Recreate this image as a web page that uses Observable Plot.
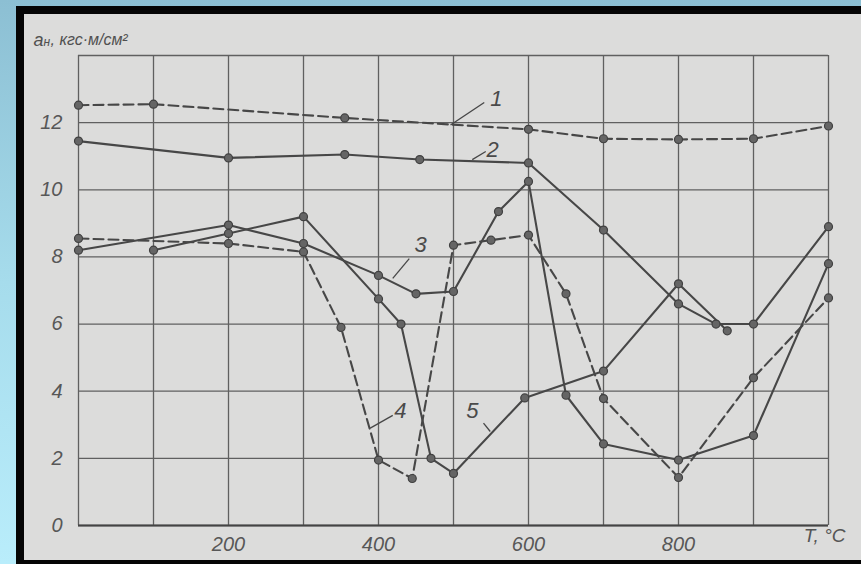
<!DOCTYPE html>
<html>
<head>
<meta charset="utf-8">
<script src="https://cdn.jsdelivr.net/npm/d3@7"></script>
<script src="https://cdn.jsdelivr.net/npm/@observablehq/plot@0.6"></script>
<style>
  html, body { margin: 0; padding: 0; width: 861px; height: 564px; overflow: hidden; }
  body { background: linear-gradient(to bottom, #8cbfd3 0%, #a6dcec 50%, #b9edfb 100%); position: relative; }
  #frame { position: absolute; left: 16px; top: 6px; width: 845px; height: 558px; background: #050505; }
  #paper { position: absolute; left: 24px; top: 14px; width: 837px; height: 546px; background: #dcdcdb; }
  #paper svg { display: block; }
</style>
</head>
<body>
<div id="frame"></div>
<div id="paper"></div>
<script>
// Grid and tick values
const T_GRID = [0, 100, 200, 300, 400, 500, 600, 700, 800, 900, 1000];
const A_GRID = [0, 2, 4, 6, 8, 10, 12, 14];
const X_TICKS = [200, 400, 600, 800];
const Y_TICKS = [0, 2, 4, 6, 8, 10, 12];

// Curve 1 (dashed)
const c1T = [0, 100, 355, 600, 700, 800, 900, 1000];
const c1A = [12.52, 12.55, 12.14, 11.8, 11.52, 11.5, 11.52, 11.9];
// Curve 2 (solid)
const c2T = [0, 200, 355, 455, 600, 700, 800, 850, 900, 1000];
const c2A = [11.45, 10.95, 11.05, 10.9, 10.8, 8.8, 6.6, 6.0, 6.0, 8.9];
// Curve 3 (solid)
const c3T = [0, 200, 300, 400, 450, 500, 560, 600, 650, 700, 800, 900, 1000];
const c3A = [8.2, 8.95, 8.4, 7.45, 6.9, 6.97, 9.35, 10.25, 3.88, 2.43, 1.95, 2.68, 7.8];
// Curve 4 (dashed)
const c4T = [0, 200, 300, 350, 400, 445, 500, 550, 600, 650, 700, 800, 900, 1000];
const c4A = [8.55, 8.4, 8.15, 5.9, 1.95, 1.4, 8.35, 8.5, 8.65, 6.9, 3.78, 1.43, 4.4, 6.78];
// Curve 5 (solid)
const c5T = [100, 200, 300, 400, 430, 470, 500, 595, 700, 800, 865];
const c5A = [8.2, 8.7, 9.2, 6.75, 6.0, 2.0, 1.55, 3.8, 4.6, 7.2, 5.8];

// Curve number labels and their leader lines
const labelText = ["1", "2", "3", "4", "5"];
const labelT = [557, 552, 456, 429, 525];
const labelA = [12.7, 11.2, 8.37, 3.4, 3.4];
const leadT1 = [496, 525, 419, 389, 549];
const leadA1 = [11.93, 10.9, 7.36, 2.9, 2.8];
const leadT2 = [541, 543, 441, 419, 540];
const leadA2 = [12.6, 11.14, 7.95, 3.28, 3.05];

const curves = [
  {T: c1T, A: c1A, dashed: true},
  {T: c2T, A: c2A, dashed: false},
  {T: c3T, A: c3A, dashed: false},
  {T: c4T, A: c4A, dashed: true},
  {T: c5T, A: c5A, dashed: false}
];
const pts = c => c.T.map((t, i) => ({t, a: c.A[i]}));
const labels = labelText.map((s, i) => ({s, t: labelT[i], a: labelA[i], t1: leadT1[i], a1: leadA1[i], t2: leadT2[i], a2: leadA2[i]}));

const ink = "#474747";
const gridInk = "#606060";
const font = "'Liberation Sans', Arial, sans-serif";

const marks = [
  Plot.ruleX(T_GRID, {stroke: gridInk, strokeWidth: 1.3}),
  Plot.ruleY(A_GRID, {stroke: gridInk, strokeWidth: 1.3}),
  Plot.ruleY([0], {stroke: "#444", strokeWidth: 2.2}),
  Plot.axisX(X_TICKS, {tickSize: 0, tickPadding: 11, fontSize: 20, fontStyle: "italic", fontFamily: font, fill: "#575757", label: null}),
  Plot.axisY(Y_TICKS, {tickSize: 0, tickPadding: 16, fontSize: 20, fontStyle: "italic", fontFamily: font, fill: "#575757", label: null}),
];
for (const c of curves) {
  marks.push(Plot.line(pts(c), {x: "t", y: "a", stroke: ink, strokeWidth: 2.1, strokeDasharray: c.dashed ? "10,5" : null, curve: "linear"}));
}
for (const c of curves) {
  marks.push(Plot.dot(pts(c), {x: "t", y: "a", r: 4, fill: "#656565", stroke: "#404040", strokeWidth: 1.2}));
}
marks.push(
  Plot.link(labels, {x1: "t1", y1: "a1", x2: "t2", y2: "a2", stroke: ink, strokeWidth: 1.3}),
  Plot.text(labels, {x: "t", y: "a", text: "s", fontSize: 22, fontStyle: "italic", fontFamily: font, fill: "#4a4a4a"}),
  // axis titles
  Plot.text(["a"], {frameAnchor: "top-left", dx: -45, dy: -22, textAnchor: "start", fontSize: 18, fontStyle: "italic", fontFamily: font, fill: "#505050"}),
  Plot.text(["н"], {frameAnchor: "top-left", dx: -35, dy: -18, textAnchor: "start", fontSize: 12, fontStyle: "italic", fontFamily: font, fill: "#505050"}),
  Plot.text([", кгс·м/см²"], {frameAnchor: "top-left", dx: -28, dy: -22, textAnchor: "start", fontSize: 16, fontStyle: "italic", fontFamily: font, fill: "#505050"}),
  Plot.text(["T, °C"], {frameAnchor: "bottom-right", dx: 17, dy: 16, textAnchor: "end", fontSize: 19, fontStyle: "italic", fontFamily: font, fill: "#555"})
);

const chart = Plot.plot({
  width: 837,
  height: 546,
  marginLeft: 54,
  marginRight: 33,
  marginTop: 41,
  marginBottom: 35,
  style: {background: "transparent", overflow: "visible"},
  x: {domain: [0, 1000]},
  y: {domain: [0, 14]},
  marks
});
document.getElementById("paper").appendChild(chart);
</script>
</body>
</html>
